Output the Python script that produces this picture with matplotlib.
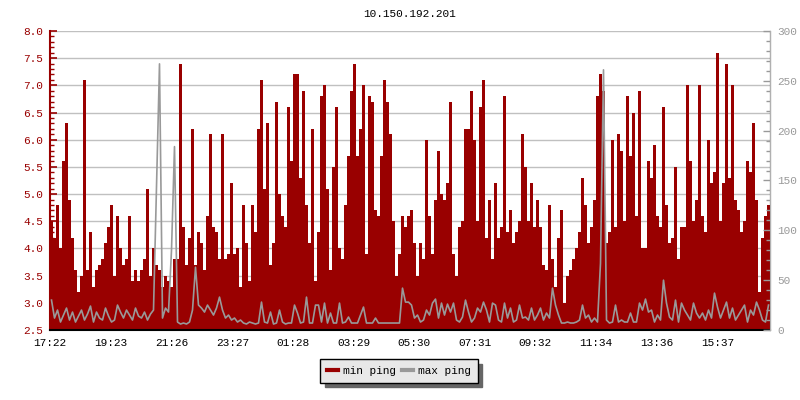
import numpy as np
import matplotlib
matplotlib.use("Agg")
import matplotlib.pyplot as plt
from matplotlib.ticker import MultipleLocator

plt.rcParams['font.family'] = ['Liberation Mono', 'DejaVu Sans Mono']

# one value every 6 minutes, starting 17:22
min_ping = [
    4.5, 4.2, 4.8, 4.0, 5.6, 6.3, 4.9, 4.2, 3.6, 3.2, 3.5, 7.1, 3.6, 4.3, 3.3, 3.6, 3.7, 3.8, 4.1, 4.4,
    4.8, 3.5, 4.6, 4.0, 3.7, 3.8, 4.6, 3.4, 3.6, 3.4, 3.6, 3.8, 5.1, 3.5, 4.0, 3.7, 3.6, 3.3, 3.5, 3.4,
    3.3, 3.8, 3.8, 7.4, 4.4, 3.7, 4.2, 6.2, 3.7, 4.3, 4.1, 3.6, 4.6, 6.1, 4.4, 4.3, 3.8, 6.1, 3.8, 3.9,
    5.2, 3.9, 4.0, 3.3, 4.8, 4.1, 3.4, 4.8, 4.3, 6.2, 7.1, 5.1, 6.3, 3.7, 4.1, 6.7, 5.0, 4.6, 4.4, 6.6,
    5.6, 7.2, 7.2, 5.3, 6.9, 4.8, 4.1, 6.2, 3.4, 4.3, 6.8, 7.0, 5.1, 3.6, 5.5, 6.6, 4.0, 3.8, 4.8, 5.7,
    6.9, 7.4, 5.7, 6.2, 7.0, 3.9, 6.8, 6.7, 4.7, 4.6, 5.7, 7.1, 6.7, 6.1, 4.5, 3.5, 3.9, 4.6, 4.4, 4.6,
    4.7, 4.1, 3.5, 4.1, 3.8, 6.0, 4.6, 3.9, 4.9, 5.8, 5.0, 4.9, 5.2, 6.7, 3.9, 3.5, 4.4, 4.5, 6.2, 6.2,
    6.9, 6.0, 4.5, 6.6, 7.1, 4.2, 4.9, 3.8, 5.2, 4.2, 4.4, 6.8, 4.3, 4.7, 4.1, 4.3, 4.5, 6.1, 5.5, 4.5,
    5.2, 4.4, 4.9, 4.4, 3.7, 3.6, 4.8, 3.8, 3.3, 4.2, 4.7, 3.0, 3.5, 3.6, 3.8, 4.0, 4.3, 5.3, 4.8, 4.1,
    4.4, 4.9, 6.8, 7.2, 6.9, 4.1, 4.3, 6.0, 4.4, 6.1, 5.8, 4.5, 6.8, 5.7, 6.5, 4.6, 6.9, 4.0, 4.0, 5.6,
    5.3, 5.9, 4.6, 4.4, 6.6, 4.8, 4.1, 4.2, 5.5, 3.8, 4.4, 4.4, 7.0, 5.6, 4.5, 4.9, 7.0, 4.6, 4.3, 6.0,
    5.2, 5.4, 7.6, 4.5, 5.2, 7.4, 5.3, 7.0, 4.9, 4.7, 4.3, 4.5, 5.6, 5.4, 6.3, 4.9, 3.2, 4.2, 4.6, 4.8,
]

max_ping = [
    30, 12, 20, 8, 15, 22, 10, 18, 8, 14, 20, 10, 16, 24, 8, 18, 12, 10, 22, 14,
    8, 10, 25, 18, 12, 20, 15, 10, 22, 14, 12, 18, 10, 16, 20, 145, 267, 12, 22, 18,
    80, 184, 8, 6, 7, 6, 8, 20, 63, 25, 22, 18, 25, 20, 15, 22, 33, 20, 12, 15,
    10, 12, 8, 10, 7, 6, 8, 7, 6, 7, 28, 8, 7, 18, 6, 7, 20, 8, 6, 7,
    7, 25, 17, 7, 8, 33, 7, 7, 25, 25, 8, 27, 7, 17, 7, 7, 27, 7, 8, 13,
    7, 7, 7, 15, 23, 7, 7, 7, 12, 7, 7, 7, 7, 7, 7, 7, 7, 42, 28, 28,
    25, 12, 15, 8, 10, 20, 15, 27, 31, 12, 27, 15, 26, 18, 27, 10, 8, 13, 30, 18,
    8, 12, 22, 18, 28, 20, 8, 27, 25, 10, 8, 27, 12, 22, 8, 10, 25, 12, 13, 10,
    22, 10, 15, 22, 10, 17, 12, 42, 25, 15, 7, 7, 8, 7, 7, 8, 10, 25, 12, 15,
    8, 12, 8, 67, 261, 10, 7, 8, 25, 8, 10, 8, 8, 17, 8, 8, 27, 20, 31, 18,
    20, 8, 15, 10, 50, 27, 13, 10, 30, 8, 27, 20, 15, 10, 27, 17, 12, 17, 10, 20,
    12, 37, 23, 12, 20, 28, 12, 22, 10, 15, 20, 25, 8, 20, 15, 28, 20, 10, 8, 25,
]

tick_minutes = [0, 121, 244, 365, 486, 607, 728, 849, 970, 1092, 1214, 1335]
tick_labels = ['17:22', '19:23', '21:26', '23:27', '01:28', '03:29',
               '05:30', '07:31', '09:32', '11:34', '13:36', '15:37']

RED = '#990000'
GRAY = '#999999'

t = np.arange(len(min_ping) + 1) * 6
lo = np.array(min_ping + [min_ping[-1]])
t_mid = np.arange(len(max_ping)) * 6 + 3

fig = plt.figure(figsize=(8, 4), dpi=100)
ax = fig.add_axes([50 / 800, 70 / 400, 720 / 800, 299 / 400])
ax2 = ax.twinx()

ax.fill_between(t, 2.5, lo, step='post', color=RED, lw=0, zorder=2)
ax2.plot(t_mid, max_ping, color=GRAY, lw=1.2)

ax.set_xlim(0, 1440)
ax.set_ylim(2.5, 8.0)
ax2.set_ylim(0, 300)

ax.yaxis.set_major_locator(MultipleLocator(0.5))
ax.yaxis.set_minor_locator(MultipleLocator(0.1))
ax.yaxis.set_major_formatter(matplotlib.ticker.FormatStrFormatter('%.1f'))
ax2.yaxis.set_major_locator(MultipleLocator(50))
ax2.yaxis.set_minor_locator(MultipleLocator(10))
ax.set_xticks(tick_minutes, tick_labels)

ax.grid(axis='y', color='#c0c0c0', lw=1)
ax.set_axisbelow(True)

for a in (ax, ax2):
    a.spines['top'].set_visible(False)
ax.spines['left'].set_color(RED)
ax.spines['left'].set_linewidth(1.5)
ax.spines['bottom'].set_color('black')
ax.spines['bottom'].set_linewidth(1.5)
ax2.spines['right'].set_color('#b0b0b0')
ax2.spines['left'].set_visible(False)
ax2.spines['bottom'].set_visible(False)

ax.tick_params(axis='y', which='major', direction='in', length=5, width=1.2,
               color=RED, labelcolor=RED, labelsize=8, pad=5)
ax.tick_params(axis='y', which='minor', direction='in', length=3, width=1, color=RED)
ax.tick_params(axis='x', direction='in', length=5, width=1.2, labelsize=8, pad=6)
ax2.tick_params(axis='y', which='major', direction='in', length=5, width=1,
                color=GRAY, labelcolor=GRAY, labelsize=8, pad=5)
ax2.tick_params(axis='y', which='minor', direction='in', length=3, width=1, color=GRAY)

fig.text(410 / 800, 1 - 14 / 400, '10.150.192.201', ha='center', va='center', fontsize=8)

handles = [plt.Line2D([], [], color=RED, lw=3), plt.Line2D([], [], color=GRAY, lw=3)]
leg = fig.legend(handles, ['min ping', 'max ping'], loc='center',
                 bbox_to_anchor=(399 / 800, 1 - 371 / 400), ncol=2, fontsize=8,
                 frameon=True, fancybox=False, handlelength=1.0, handletextpad=0.4,
                 columnspacing=0.6, borderpad=0.6,
                 shadow={'color': '#666666', 'alpha': 1, 'ox': 3, 'oy': -3})
leg.get_frame().set_facecolor('#e8e8e8')
leg.get_frame().set_edgecolor('black')
leg.get_frame().set_alpha(1)

fig.savefig('out.png', dpi=100)
